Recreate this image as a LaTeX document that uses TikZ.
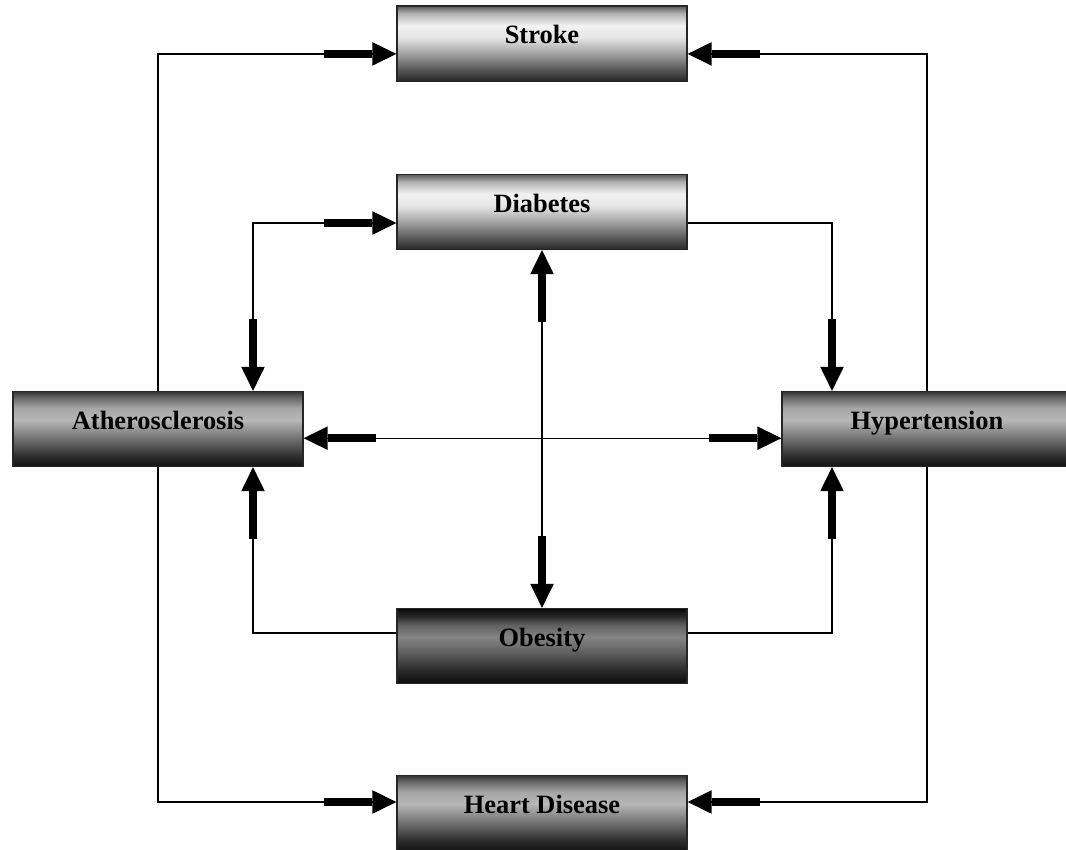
\documentclass[tikz,border=0pt]{standalone}
\usepackage{fontspec}
\setmainfont{Liberation Serif}
\usetikzlibrary{arrows.meta}

\pgfdeclareverticalshading{lightbar}{100bp}{color(0bp)=(black!85); color(25bp)=(black!85);
  color(31bp)=(black!70); color(42bp)=(black!40); color(54bp)=(black!10); color(62bp)=(black!5);
  color(70bp)=(black!30); color(75bp)=(black!65); color(100bp)=(black!65)}
\pgfdeclareverticalshading{darkbar}{100bp}{color(0bp)=(black!92); color(25bp)=(black!92);
  color(32bp)=(black!82); color(44bp)=(black!55); color(56bp)=(black!28); color(64bp)=(black!35);
  color(71bp)=(black!60); color(75bp)=(black!80); color(100bp)=(black!80)}
\pgfdeclareverticalshading{darkerbar}{100bp}{color(0bp)=(black!95); color(25bp)=(black!95);
  color(33bp)=(black!85); color(46bp)=(black!62); color(56bp)=(black!48); color(64bp)=(black!62);
  color(70bp)=(black!85); color(75bp)=(black!97); color(100bp)=(black!97)}

\begin{document}
\begin{tikzpicture}[x=0.25mm,y=-0.25mm,
    box/.style={draw=black!85,line width=0.3mm,shading=#1,minimum width=72.5mm,minimum height=18.75mm,
                inner sep=0pt,text height=3.5mm,text depth=3.5mm,
                font=\bfseries\fontsize{18.8}{22}\selectfont},
    link/.style={line width=0.35mm,-{Rectangle[length=12mm,width=1.9mm]Triangle[length=6mm,width=5.8mm]}},
    link2/.style={line width=0.35mm,{Triangle[length=6mm,width=5.8mm]Rectangle[length=12mm,width=1.9mm]}-{Rectangle[length=12mm,width=1.9mm]Triangle[length=6mm,width=5.8mm]}}]
    \useasboundingbox (0,0) rectangle (1066,850);
    \clip (0,0) rectangle (1066,850);

    \node[box=lightbar] (stroke) at (542,43.5) {Stroke};
    \node[box=lightbar] (dia) at (542,212) {Diabetes};
    \node[box=darkbar] (ath) at (158,429) {Atherosclerosis};
    \node[box=darkbar] (hyp) at (927,429) {Hypertension};
    \node[box=darkerbar] (obe) at (542,646) {Obesity};
    \node[box=darkbar] (heart) at (542,813) {Heart Disease};

    % outer loop
    \draw[link] (ath.north) |- ([yshift=-2.6mm]stroke.west);
    \draw[link] (hyp.north) |- ([yshift=-2.6mm]stroke.east);
    \draw[link] (ath.south) |- ([yshift=2.75mm]heart.west);
    \draw[link] (hyp.south) |- ([yshift=2.75mm]heart.east);

    % inner loop
    \draw[link2] ([xshift=23.75mm]ath.north) |- ([yshift=-2.75mm]dia.west);
    \draw[link] ([yshift=-2.75mm]dia.east) -| ([xshift=-23.75mm]hyp.north);
    \draw[link2] (dia.south) -- (obe.north);
    \draw[link2] ([yshift=-2.3mm]ath.east) -- ([yshift=-2.3mm]hyp.west);
    \draw[link] ([yshift=3.25mm]obe.west) -| ([xshift=23.75mm]ath.south);
    \draw[link] ([yshift=3.25mm]obe.east) -| ([xshift=-23.75mm]hyp.south);
\end{tikzpicture}
\end{document}
